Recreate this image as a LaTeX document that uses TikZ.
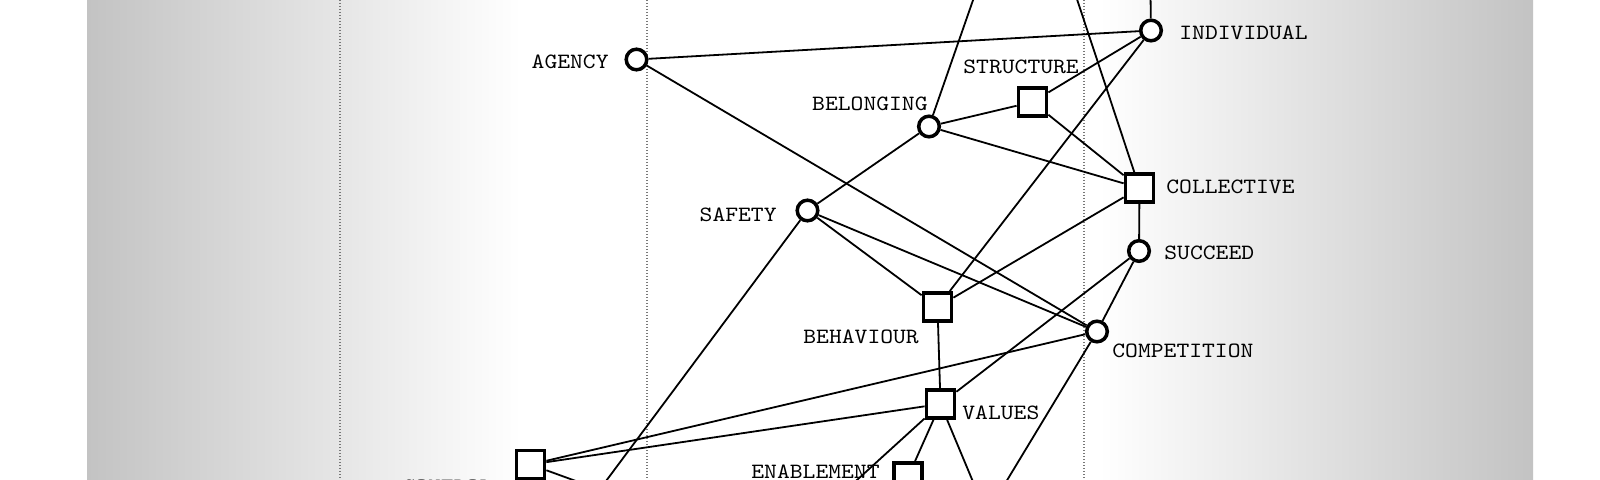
\documentclass[tikz,border=0pt]{standalone}
\usepackage{graphicx}
\definecolor{bgg}{RGB}{195,195,195}
\definecolor{guidec}{RGB}{120,120,120}
\newcommand{\lbltxt}[1]{\scalebox{1.12}[1]{#1}}
\begin{document}
\begin{tikzpicture}[x=0.5pt,y=-0.5pt,
  lbl/.style={font=\ttfamily\fontsize{10.9}{12}\selectfont, inner sep=0pt},
  cnode/.style={circle, draw, line width=1.75pt, fill=white, minimum size=10.3pt, inner sep=0pt},
  snode/.style={rectangle, draw, line width=1.9pt, fill=white, minimum size=14pt, inner sep=0pt},
  link/.style={line width=0.9pt},
  guide/.style={guidec, line width=0.6pt, dash pattern=on 0.5pt off 1pt}]
\useasboundingbox (0,0) rectangle (1600,480);
\begin{scope}
\clip (0,0) rectangle (1600,480);
\fill[white] (0,0) rectangle (1600,480);
\shade[left color=bgg, right color=white] (87,0) rectangle (521,480);
\shade[left color=white, right color=bgg] (1099,0) rectangle (1533,480);
% guides
\coordinate (g1t) at (340,0); \coordinate (g1b) at (340,480);
\coordinate (g2t) at (647,0); \coordinate (g2b) at (647,480);
\coordinate (g3t) at (1084,0); \coordinate (g3b) at (1084,480);
\draw[guide] (g1t) -- (g1b);
\draw[guide] (g2t) -- (g2b);
\draw[guide] (g3t) -- (g3b);
% nodes
\node[cnode] (agency) at (636.5,59.5) {};
\node[cnode] (safety) at (807.5,210.5) {};
\node[cnode] (indiv) at (1151,30.5) {};
\node[cnode] (belong) at (929,126.5) {};
\node[snode] (struct) at (1032.5,102) {};
\node[snode] (coll) at (1139.5,188) {};
\node[cnode] (succeed) at (1139,251) {};
\node[snode] (behav) at (937.5,307) {};
\node[cnode] (comp) at (1097,331.5) {};
\node[snode] (values) at (940.5,404) {};
\node[snode] (enable) at (908,477) {};
\node[snode] (control) at (530.5,464.5) {};
% labels
\node[lbl, anchor=east] (lagency) at (609,61.5) {\lbltxt{AGENCY}};
\node[lbl, anchor=east] (lsafety) at (777,215) {\lbltxt{SAFETY}};
\node[lbl, anchor=east] (lbelong) at (928,104) {\lbltxt{BELONGING}};
\node[lbl, anchor=west] (lstruct) at (963,67) {\lbltxt{STRUCTURE}};
\node[lbl, anchor=west] (lindiv) at (1179,32.5) {\lbltxt{INDIVIDUAL}};
\node[lbl, anchor=west] (lcoll) at (1166,186.5) {\lbltxt{COLLECTIVE}};
\node[lbl, anchor=west] (lsucc) at (1164,252.5) {\lbltxt{SUCCEED}};
\node[lbl, anchor=west] (lbehav) at (803,336.5) {\lbltxt{BEHAVIOUR}};
\node[lbl, anchor=west] (lcomp) at (1112,350.5) {\lbltxt{COMPETITION}};
\node[lbl, anchor=west] (lvalues) at (962,412.5) {\lbltxt{VALUES}};
\node[lbl, anchor=west] (lenable) at (751,471.5) {\lbltxt{ENABLEMENT}};
\node[lbl, anchor=west] (lcontrol) at (402,487) {\lbltxt{CONTROL}};
% off-picture ends
\coordinate (tBel) at (987,-40);
\coordinate (tColl) at (1064,-40);
\coordinate (tInd) at (1150,-40);
\coordinate (bSaf) at (577,520);
\coordinate (bComp) at (983,520);
\coordinate (bValL) at (813,520);
\coordinate (bValR) at (989,520);
\coordinate (bCtrlR) at (683,520);
\coordinate (bCtrlD) at (540,520);
% connectors
\draw[link] (agency) -- (indiv);
\draw[link] (agency) -- (comp);
\draw[link] (safety) -- (belong);
\draw[link] (safety) -- (behav);
\draw[link] (safety) -- (comp);
\draw[link] (safety) -- (bSaf);
\draw[link] (belong) -- (struct);
\draw[link] (belong) -- (coll);
\draw[link] (belong) -- (tBel);
\draw[link] (struct) -- (indiv);
\draw[link] (struct) -- (coll);
\draw[link] (indiv) -- (tInd);
\draw[link] (indiv) -- (behav);
\draw[link] (coll) -- (tColl);
\draw[link] (coll) -- (behav);
\draw[link] (coll) -- (succeed);
\draw[link] (succeed) -- (comp);
\draw[link] (succeed) -- (values);
\draw[link] (behav) -- (values);
\draw[link] (comp) -- (control);
\draw[link] (values) -- (control);
\draw[link] (comp) -- (bComp);
\draw[link] (values) -- (enable);
\draw[link] (values) -- (bValL);
\draw[link] (values) -- (bValR);
\draw[link] (control) -- (bCtrlR);
\draw[link] (control) -- (bCtrlD);
\end{scope}
\end{tikzpicture}
\end{document}
